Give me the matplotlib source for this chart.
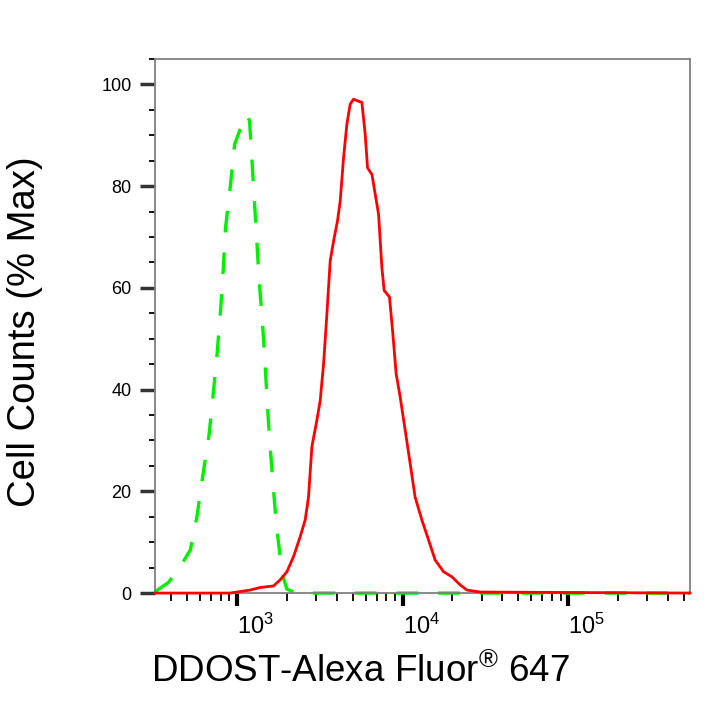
import matplotlib
matplotlib.use('Agg')
import matplotlib.pyplot as plt
from matplotlib.ticker import FixedLocator, LogLocator, NullFormatter

plt.rcParams['font.family'] = ['Liberation Sans', 'DejaVu Sans']
plt.rcParams['mathtext.fontset'] = 'custom'
plt.rcParams['mathtext.rm'] = 'Liberation Sans'
plt.rcParams['mathtext.it'] = 'Liberation Sans:italic'
plt.rcParams['mathtext.bf'] = 'Liberation Sans:bold'

# DDOST stained sample (red, solid)
red_x = [320, 911, 1047, 1203, 1383, 1663, 1824, 2004, 2198, 2411, 2584, 2706,
         2836, 3040, 3185, 3337, 3494, 3660, 3869, 4050, 4205, 4405, 4613,
         4830, 5058, 5420, 5683, 5952, 6148, 6535, 6844, 7166, 7506, 7745,
         8344, 8741, 9155, 9685, 10380, 11120, 11910, 13080, 14350, 15740,
         17690, 19880, 22300, 24480, 29450, 545000]
red_y = [0, 0, 0.3, 0.6, 1.1, 1.4, 2.6, 4.2, 7.2, 11.1, 14.4, 18.9,
         28.8, 34.0, 37.9, 45.1, 54.9, 65.4, 69.9, 73.2, 77.1, 85.6, 92.2,
         96.1, 97.1, 96.7, 96.5, 90.2, 83.6, 82.3, 78.4, 74.5, 64.0, 59.5,
         58.2, 51.0, 43.1, 38.5, 32.0, 25.5, 18.9, 14.4, 10.5, 6.5,
         4.2, 3.2, 1.6, 0.6, 0.2, 0]

# isotype control (green, dashed)
green_x = [321, 386, 455, 523, 573, 623, 678, 719, 760, 796, 826, 853, 912,
           968, 1087, 1138, 1191, 1225, 1267, 1313, 1358, 1422, 1476, 1524,
           1582, 1656, 1734, 1844, 1911, 2000, 2200, 2500, 545000]
green_y = [0.3, 2.1, 5.2, 8.5, 15.0, 23.2, 31.0, 39.2, 47.3, 55.5, 63.5, 71.8,
           80.0, 88.2, 92.7, 94.1, 92.9, 86.5, 78.4, 70.3, 62.0, 53.7, 45.6,
           37.4, 29.3, 21.0, 13.1, 5.9, 2.9, 0.8, 0.2, 0, 0]

x_ticks = [1e3, 1e4, 1e5]
x_ticklabels = [r'$\mathregular{10^{3}}$', r'$\mathregular{10^{4}}$', r'$\mathregular{10^{5}}$']
y_ticks = [0, 20, 40, 60, 80, 100]

fig = plt.figure(figsize=(7.18, 7.18), dpi=100)
ax = fig.add_axes([0.2159, 0.174, 0.7451, 0.7438])

ax.plot(red_x, red_y, color='#ff0000', lw=2.0, clip_on=False, zorder=3)
ax.plot(green_x, green_y, color='#00f000', lw=2.4, linestyle=(0, (6.5, 6)),
        clip_on=False, zorder=2)

ax.set_xscale('log')
ax.set_xlim(320, 5.45e5)
ax.set_ylim(0, 105)

ax.xaxis.set_major_locator(FixedLocator(x_ticks))
ax.set_xticklabels(x_ticklabels, ha='left')
ax.xaxis.set_minor_locator(LogLocator(base=10, subs=range(2, 10), numticks=20))
ax.xaxis.set_minor_formatter(NullFormatter())
ax.set_yticks(y_ticks)
ax.yaxis.set_minor_locator(FixedLocator(range(0, 106, 5)))

for s in ax.spines.values():
    s.set_color('#808080')
    s.set_linewidth(1.3)

ax.tick_params(axis='x', which='major', direction='out', length=9.5, width=3,
               color='black', labelsize=17, pad=5)
ax.tick_params(axis='x', which='minor', direction='out', length=5.5, width=1.3,
               color='black')
ax.tick_params(axis='y', which='major', direction='out', length=11, width=2.5,
               color='#333333', labelsize=13, pad=6)
ax.tick_params(axis='y', which='minor', direction='out', length=4.5, width=1.3,
               color='black')

ax.set_ylabel('Cell Counts (% Max)', fontsize=27.5)
ax.yaxis.set_label_coords(-0.21, 0.49)
ax.set_xlabel(r'DDOST-Alexa Fluor$\mathregular{^{®}}$ 647', fontsize=26.5)
ax.xaxis.set_label_coords(0.383, -0.113)

fig.savefig('out.png', dpi=100)
